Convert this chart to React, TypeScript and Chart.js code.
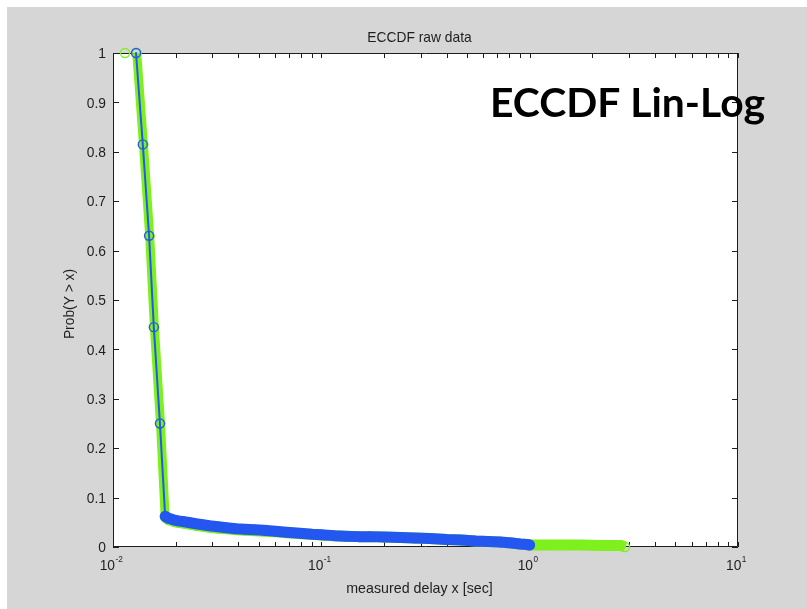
import React, { useEffect, useRef } from "react";
import { Chart, registerables } from "chart.js";

Chart.register(...registerables);

// ---------- data ----------
const TITLE = "ECCDF raw data";
const X_LABEL = "measured delay x [sec]";
const Y_LABEL = "Prob(Y > x)";
const OVERLAY = "ECCDF Lin-Log";

const X_TICKS = [0.01, 0.1, 1, 10];
const X_TICK_EXP = ["-2", "-1", "0", "1"];
const X_MINOR = [2, 3, 4, 5, 6, 7, 8, 9];
const Y_TICKS = [0, 0.1, 0.2, 0.3, 0.4, 0.5, 0.6, 0.7, 0.8, 0.9, 1];
const Y_TICK_LABELS = ["0", "0.1", "0.2", "0.3", "0.4", "0.5", "0.6", "0.7", "0.8", "0.9", "1"];

const blueX = [
  0.0129, 0.0139, 0.0149, 0.0157, 0.0168, 0.0178,
  0.0185, 0.0195, 0.0205, 0.022, 0.0235, 0.025, 0.027, 0.029, 0.032, 0.035,
  0.039, 0.043, 0.048, 0.053, 0.06, 0.068, 0.079, 0.09, 0.1, 0.115, 0.13,
  0.15, 0.17, 0.2, 0.24, 0.28, 0.33, 0.4, 0.47, 0.55, 0.63, 0.72, 0.82,
  0.9, 0.97, 1.0,
];
const blueY = [
  1, 0.815, 0.63, 0.445, 0.25, 0.062,
  0.058, 0.055, 0.053, 0.051, 0.049, 0.047, 0.045, 0.043, 0.041, 0.039,
  0.037, 0.036, 0.035, 0.034, 0.032, 0.03, 0.028, 0.026, 0.025, 0.023, 0.022,
  0.021, 0.021, 0.02, 0.019, 0.018, 0.017, 0.015, 0.014, 0.012, 0.011, 0.01, 0.008,
  0.006, 0.005, 0.004,
];

const greenX = [
  0.01142, 0.013, 0.014, 0.015, 0.0158, 0.0169, 0.0178,
  0.0185, 0.0195, 0.0205, 0.022, 0.0235, 0.025, 0.027, 0.029, 0.032, 0.035,
  0.039, 0.043, 0.048, 0.053, 0.06, 0.068, 0.079, 0.09, 0.1, 0.115, 0.13,
  0.15, 0.17, 0.2, 0.24, 0.28, 0.33, 0.4, 0.47, 0.55, 0.63, 0.72, 0.82,
  0.9, 0.97, 1.0, 1.1, 1.4, 1.8, 2.2, 2.6, 2.75, 2.87,
];
const greenY = [
  1, 1, 0.815, 0.63, 0.445, 0.25, 0.06,
  0.055, 0.052, 0.05, 0.048, 0.046, 0.044, 0.042, 0.04, 0.038, 0.037,
  0.035, 0.034, 0.033, 0.032, 0.031, 0.029, 0.027, 0.026, 0.024, 0.023, 0.022,
  0.021, 0.021, 0.02, 0.019, 0.018, 0.017, 0.015, 0.014, 0.012, 0.011, 0.01, 0.008,
  0.006, 0.005, 0.004, 0.004, 0.004, 0.004, 0.003, 0.003, 0.003, 0,
];

const BLUE = "#2457f0";
const GREEN = "#7ef01e";
const GRAY = "#d6d6d6";
const INK = "#1e1e1e";
const FONT = "Liberation Sans";
const SX = 0.92;

function txt(
  ctx: CanvasRenderingContext2D,
  s: string,
  x: number,
  y: number,
  align: CanvasTextAlign,
  baseline: CanvasTextBaseline,
  sx = SX
) {
  ctx.save();
  ctx.translate(x, y);
  ctx.scale(sx, 1);
  ctx.textAlign = align;
  ctx.textBaseline = baseline;
  ctx.fillText(s, 0, 0);
  ctx.restore();
}

const matlabPlugin = {
  id: "matlabFrame",
  beforeDraw(chart: any) {
    const { ctx, chartArea: a, width, height } = chart;
    ctx.save();
    ctx.fillStyle = "#ffffff";
    ctx.fillRect(0, 0, width, height);
    ctx.fillStyle = GRAY;
    ctx.fillRect(7, 7, width - 7, height - 7);
    ctx.fillStyle = "#ffffff";
    ctx.fillRect(a.left, a.top, a.right - a.left, a.bottom - a.top);
    ctx.restore();
  },
  beforeDatasetsDraw(chart: any) {
    const { ctx, chartArea: a, scales } = chart;
    const xs = scales.x;
    const ys = scales.y;
    ctx.save();
    ctx.strokeStyle = INK;
    ctx.lineWidth = 1;
    ctx.beginPath();
    ctx.rect(a.left + 0.5, a.top + 0.5, a.right - a.left - 1, a.bottom - a.top - 1);
    ctx.stroke();
    ctx.beginPath();
    const xt: number[] = [];
    for (let i = 0; i < X_TICKS.length; i++) {
      xt.push(X_TICKS[i]);
      if (i < X_TICKS.length - 1) X_MINOR.forEach((m) => xt.push(X_TICKS[i] * m));
    }
    xt.forEach((v) => {
      const px = Math.round(xs.getPixelForValue(v)) + 0.5;
      ctx.moveTo(px, a.bottom);
      ctx.lineTo(px, a.bottom - 5);
      ctx.moveTo(px, a.top);
      ctx.lineTo(px, a.top + 5);
    });
    Y_TICKS.forEach((v) => {
      const py = Math.round(ys.getPixelForValue(v)) + 0.5;
      ctx.moveTo(a.left, py);
      ctx.lineTo(a.left + 6, py);
      ctx.moveTo(a.right, py);
      ctx.lineTo(a.right - 6, py);
    });
    ctx.stroke();
    ctx.restore();
  },
  afterDraw(chart: any) {
    const { ctx, chartArea: a, scales } = chart;
    const xs = scales.x;
    const ys = scales.y;
    ctx.save();
    ctx.fillStyle = INK;
    ctx.font = `15px "${FONT}"`;
    Y_TICKS.forEach((v, i) => {
      const py = ys.getPixelForValue(v);
      txt(ctx, Y_TICK_LABELS[i], a.left - 7, py + 1, "right", "middle");
    });
    X_TICKS.forEach((v, i) => {
      const px = xs.getPixelForValue(v);
      ctx.font = `15px "${FONT}"`;
      const w1 = ctx.measureText("10").width * SX;
      ctx.font = `9px "${FONT}"`;
      const w2 = ctx.measureText(X_TICK_EXP[i]).width * SX;
      const start = px - (w1 + w2) / 2 - 2;
      ctx.font = `15px "${FONT}"`;
      txt(ctx, "10", start, 570, "left", "alphabetic");
      ctx.font = `9px "${FONT}"`;
      txt(ctx, X_TICK_EXP[i], start + w1 + 0.5, 562, "left", "alphabetic");
    });
    ctx.font = `15px "${FONT}"`;
    const cx = (a.left + a.right) / 2 - 6;
    txt(ctx, TITLE, cx, 38, "center", "middle");
    txt(ctx, X_LABEL, cx, 589, "center", "middle", 0.95);
    ctx.save();
    ctx.translate(70, 304);
    ctx.rotate(-Math.PI / 2);
    txt(ctx, Y_LABEL, 0, 0, "center", "middle");
    ctx.restore();
    ctx.fillStyle = "#000000";
    ctx.font = `bold 40px Lato`;
    const ow = ctx.measureText(OVERLAY).width;
    txt(ctx, OVERLAY, 490, 117, "left", "alphabetic", 275 / ow);
    ctx.restore();
  },
};

export default function App() {
  const ref = useRef<HTMLCanvasElement | null>(null);

  useEffect(() => {
    if (!ref.current) return;
    const blueData = blueX.map((x, i) => ({ x, y: blueY[i] }));
    const greenData = greenX.map((x, i) => ({ x, y: greenY[i] }));
    const chart = new Chart(ref.current, {
      type: "line",
      data: {
        datasets: [
          {
            label: "blue",
            data: blueData,
            borderColor: BLUE,
            borderWidth: 2,
            borderJoinStyle: "round",
            borderCapStyle: "round",
            pointRadius: 4.5,
            pointBorderWidth: 1.4,
            pointBackgroundColor: "rgba(0,0,0,0)",
            pointBorderColor: BLUE,
            fill: false,
            tension: 0,
            clip: false as any,
            segment: {
              borderWidth: (c: any) => (c.p0DataIndex >= 5 ? 11 : undefined),
            },
          },
          {
            label: "green",
            data: greenData,
            borderColor: GREEN,
            borderWidth: 9,
            borderJoinStyle: "round",
            borderCapStyle: "butt",
            pointRadius: 4.5,
            pointBorderWidth: 1.3,
            pointBackgroundColor: "rgba(0,0,0,0)",
            pointBorderColor: GREEN,
            fill: false,
            tension: 0,
            clip: false as any,
            segment: {
              borderColor: (c: any) => (c.p0DataIndex === 0 ? "rgba(0,0,0,0)" : undefined),
              borderWidth: (c: any) => (c.p0DataIndex >= 6 ? 11 : undefined),
            },
          },
        ],
      },
      options: {
        animation: false,
        responsive: false,
        maintainAspectRatio: false,
        devicePixelRatio: 1,
        layout: { padding: { left: 113, top: 53, right: 69, bottom: 62 } },
        plugins: {
          legend: { display: false },
          tooltip: { enabled: false },
          title: { display: false },
        },
        scales: {
          x: { type: "logarithmic", min: 0.01, max: 10, display: false },
          y: { type: "linear", min: 0, max: 1, display: false },
        },
      },
      plugins: [matlabPlugin],
    });
    return () => chart.destroy();
  }, []);

  return (
    <div style={{ position: "fixed", left: 0, top: 0, width: 807, height: 609 }}>
      <canvas ref={ref} width={807} height={609} style={{ display: "block" }} />
    </div>
  );
}
